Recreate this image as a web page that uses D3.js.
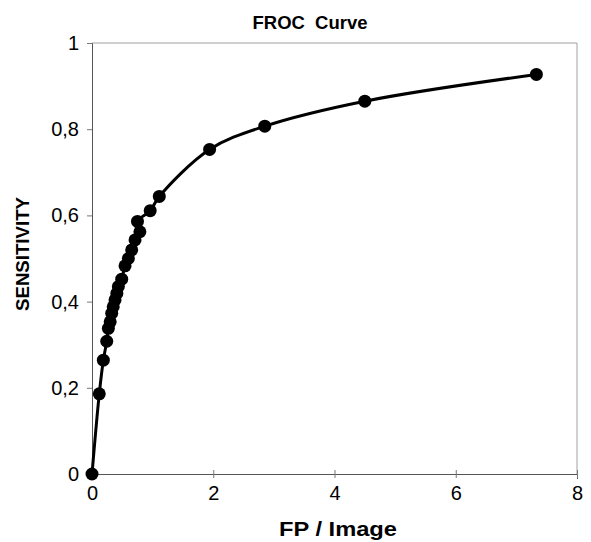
<!DOCTYPE html>
<html>
<head>
<meta charset="utf-8">
<script src="https://cdn.jsdelivr.net/npm/d3@7"></script>
<style>
  body { margin: 0; background: #fff; }
  svg text { font-family: "Liberation Sans", Arial, sans-serif; }
</style>
</head>
<body>
<div id="chart"></div>
<script>
const fpPerImage = [0, 0.12, 0.187, 0.243, 0.27, 0.30, 0.325, 0.35, 0.38, 0.41, 0.435, 0.49,
  0.545, 0.60, 0.655, 0.71, 0.79, 0.75, 0.96, 1.11, 1.94, 2.85, 4.5, 7.33];
const sensitivity = [0, 0.186, 0.264, 0.308, 0.338, 0.353, 0.373, 0.388, 0.404, 0.419, 0.435, 0.452,
  0.483, 0.50, 0.52, 0.543, 0.562, 0.586, 0.611, 0.644, 0.753, 0.807, 0.865, 0.927];
const xTicks = [0, 2, 4, 6, 8];
const yTicks = [0, 0.2, 0.4, 0.6, 0.8, 1];

const width = 591;
const height = 542;

const margin = {
    left: 92,
    right: 14,
    top: 43,
    bottom: 68
};

const svg = d3.select("#chart").append("svg")
    .attr("width", width)
    .attr("height", height);

const points = fpPerImage.map((d, i) => ({ fp: d, sens: sensitivity[i] }));

const xScale = d3.scaleLinear()
    .range([margin.left, width - margin.right])
    .domain([0, 8]);

const yScale = d3.scaleLinear()
    .range([height - margin.bottom, margin.top])
    .domain([0, 1]);

// plot area frame (top + right)
svg.append("path")
    .attr("d", `M${margin.left},${margin.top}H${width - margin.right}V${height - margin.bottom}`)
    .attr("fill", "none")
    .attr("stroke", "#a0a0a0")
    .attr("stroke-width", 1);

const xAxis = svg.append("g")
    .attr("transform", "translate(0," + (height - margin.bottom) + ")")
    .call(d3.axisBottom(xScale).tickValues(xTicks).tickSize(5).tickPadding(6).tickFormat(d3.format("d")));

const yAxis = svg.append("g")
    .attr("transform", "translate(" + margin.left + ",0)")
    .call(d3.axisLeft(yScale).tickValues(yTicks).tickSize(5).tickPadding(8)
      .tickFormat(d => d === 0 || d === 1 ? String(d) : String(d).replace(".", ",")));

[xAxis, yAxis].forEach(a => {
  a.selectAll(".domain").attr("stroke", "#555").attr("stroke-width", 1);
  a.selectAll(".tick line").attr("stroke", "#777");
  a.selectAll(".tick text")
    .attr("fill", "#000")
    .style("font-size", "20px");
});
xAxis.selectAll(".tick line").attr("y1", -4).attr("y2", 4);
xAxis.selectAll(".tick text").attr("dy", "0.75em");

const line = d3.line()
    .curve(d3.curveCatmullRom.alpha(0.5))
    .x(d => xScale(d.fp))
    .y(d => yScale(d.sens));

svg.append("path")
    .datum(points)
    .attr("fill", "none")
    .attr("stroke", "#000")
    .attr("stroke-width", 3)
    .attr("stroke-linejoin", "round")
    .attr("d", line);

svg.selectAll("circle.pt")
    .data(points)
    .join("circle")
      .attr("class", "pt")
      .attr("cx", d => xScale(d.fp))
      .attr("cy", d => yScale(d.sens))
      .attr("r", 6.5)
      .attr("fill", "#000");

svg.append("text")
    .attr("x", 310)
    .attr("y", 29)
    .attr("text-anchor", "middle")
    .attr("textLength", 115)
    .attr("lengthAdjust", "spacingAndGlyphs")
    .style("font-size", "18px")
    .style("font-weight", "bold")
    .style("white-space", "pre")
    .text("FROC  Curve");

svg.append("text")
    .attr("x", 338)
    .attr("y", 536)
    .attr("text-anchor", "middle")
    .attr("textLength", 118)
    .attr("lengthAdjust", "spacingAndGlyphs")
    .style("font-size", "20px")
    .style("font-weight", "bold")
    .text("FP / Image");

svg.append("text")
    .attr("transform", "translate(29,254) rotate(-90)")
    .attr("text-anchor", "middle")
    .attr("textLength", 114)
    .attr("lengthAdjust", "spacingAndGlyphs")
    .style("font-size", "19px")
    .style("font-weight", "bold")
    .text("SENSITIVITY");
</script>
</body>
</html>
